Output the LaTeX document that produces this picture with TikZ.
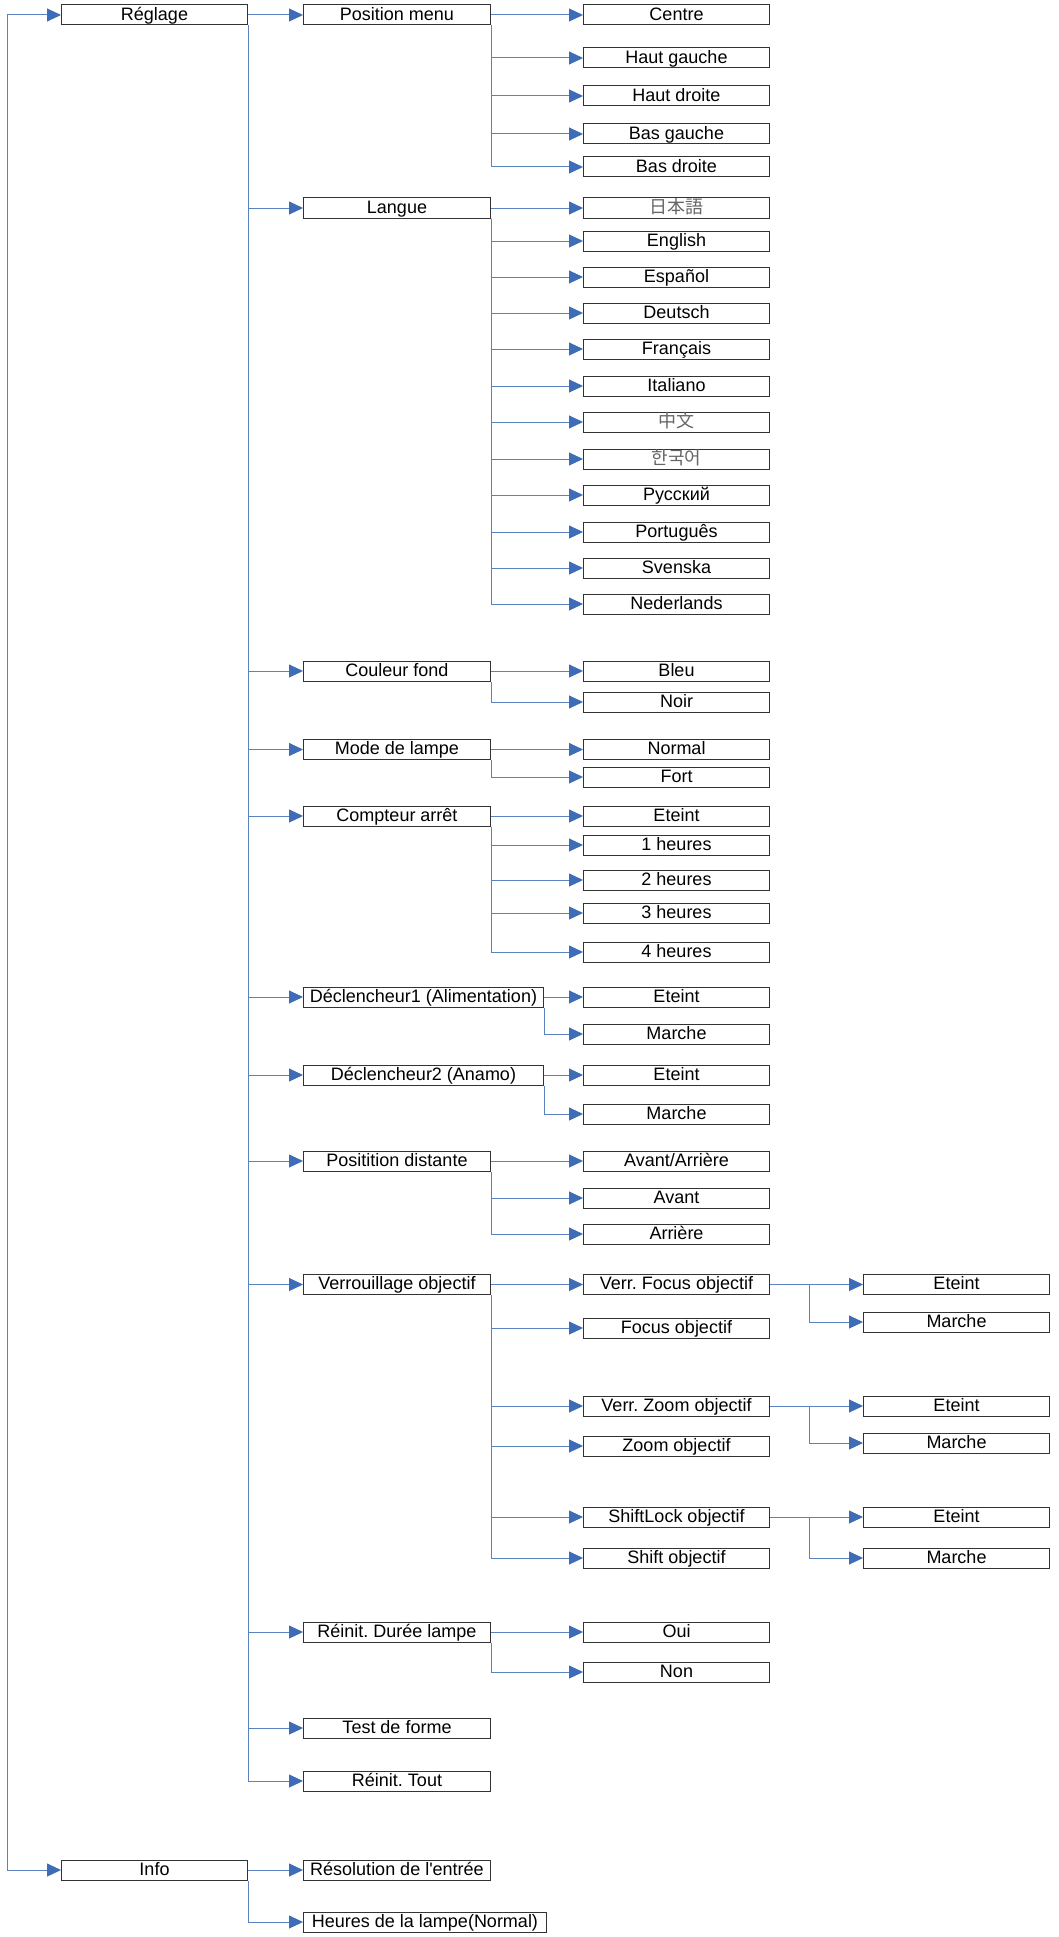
\documentclass[tikz,border=0pt]{standalone}
\usepackage{fontspec}
\newfontfamily\plainfont{Liberation Sans}
\newfontfamily\cjkjp{Noto Sans CJK JP}
\newfontfamily\cjksc{Noto Sans CJK SC}
\newfontfamily\cjkkr{Noto Sans CJK KR}
\usetikzlibrary{arrows.meta}
\definecolor{lc}{RGB}{90,130,192}
\definecolor{ac}{RGB}{62,108,182}
\frenchspacing
\begin{document}
\begin{tikzpicture}[x=1pt,y=-1pt,
  box/.style={draw=black!80, line width=1pt, fill=white, rectangle, anchor=west,
    minimum height=20pt, inner sep=0pt, font=\plainfont\fontsize{18}{20}\selectfont\frenchspacing,
    text height=12.8pt, text depth=2.4pt},
  wa/.style={box, minimum width=186pt},
  wb/.style={box, minimum width=187pt},
  wd/.style={box, minimum width=240pt},
  cjk/.style={text=black!60},
  arr/.style={draw=lc, line width=1pt, -{Triangle[length=14pt,width=13pt,fill=ac,color=ac]}}
]
\useasboundingbox (0,0) rectangle (1059,1937);

% column 1
\node[wa] (reg) at (61,15) {Réglage};
\node[wa] (info) at (61,1870) {Info};

% column 2
\node[wb] (pm) at (303,15) {Position menu};
\node[wb] (lang) at (303,208) {Langue};
\node[wb] (cf) at (303,671) {Couleur fond};
\node[wb] (ml) at (303,749.5) {Mode de lampe};
\node[wb] (ca) at (303,816) {Compteur arrêt};
\node[wd] (d1) at (303,997) {Déclencheur1 (Alimentation)};
\node[wd] (d2) at (303,1075) {Déclencheur2 (Anamo)};
\node[wb] (pd) at (303,1161) {Positition distante};
\node[wb] (vo) at (303,1284.5) {Verrouillage objectif};
\node[wb] (rd) at (303,1632) {Réinit. Durée lampe};
\node[wb] (tf) at (303,1728) {Test de forme};
\node[wb] (rt) at (303,1781) {Réinit. Tout};
\node[wb] (res) at (303,1870) {Résolution de l'entrée};
\node[box, minimum width=243pt] (hl) at (303,1922) {Heures de la lampe(Normal)};

% column 3
\node[wa] (centre) at (583,15) {Centre};
\node[wa] (hg) at (583,58) {Haut gauche};
\node[wa] (hd) at (583,96) {Haut droite};
\node[wa] (bg) at (583,134) {Bas gauche};
\node[wa] (bd) at (583,167) {Bas droite};

\node[wa, cjk] (l1) at (583,208) {\cjkjp 日本語};
\node[wa] (l2) at (583,241) {English};
\node[wa] (l3) at (583,277) {Español};
\node[wa] (l4) at (583,313) {Deutsch};
\node[wa] (l5) at (583,349) {Français};
\node[wa] (l6) at (583,386) {Italiano};
\node[wa, cjk] (l7) at (583,422) {\cjksc 中文};
\node[wa, cjk] (l8) at (583,459) {\cjkkr 한국어};
\node[wa] (l9) at (583,495) {Русский};
\node[wa] (l10) at (583,532) {Português};
\node[wa] (l11) at (583,568) {Svenska};
\node[wa] (l12) at (583,604) {Nederlands};

\node[wa] (bleu) at (583,671) {Bleu};
\node[wa] (noir) at (583,702) {Noir};
\node[wa] (normal) at (583,749.5) {Normal};
\node[wa] (fort) at (583,777) {Fort};
\node[wa] (cae) at (583,816) {Eteint};
\node[wa] (h1) at (583,845) {1 heures};
\node[wa] (h2) at (583,880) {2 heures};
\node[wa] (h3) at (583,913) {3 heures};
\node[wa] (h4) at (583,952) {4 heures};
\node[wa] (d1e) at (583,997) {Eteint};
\node[wa] (d1m) at (583,1034) {Marche};
\node[wa] (d2e) at (583,1075) {Eteint};
\node[wa] (d2m) at (583,1114) {Marche};
\node[wa] (pda) at (583,1161) {Avant/Arrière};
\node[wa] (pdb) at (583,1198) {Avant};
\node[wa] (pdc) at (583,1234) {Arrière};
\node[wa] (vf) at (583,1284.5) {Verr. Focus objectif};
\node[wa] (fo) at (583,1328) {Focus objectif};
\node[wa] (vz) at (583,1406) {Verr. Zoom objectif};
\node[wa] (zo) at (583,1446) {Zoom objectif};
\node[wa] (sl) at (583,1517) {ShiftLock objectif};
\node[wa] (so) at (583,1558) {Shift objectif};
\node[wa] (oui) at (583,1632) {Oui};
\node[wa] (non) at (583,1672) {Non};

% column 4
\node[wa] (vfe) at (863,1284.5) {Eteint};
\node[wa] (vfm) at (863,1322) {Marche};
\node[wa] (vze) at (863,1406) {Eteint};
\node[wa] (vzm) at (863,1443) {Marche};
\node[wa] (sle) at (863,1517) {Eteint};
\node[wa] (slm) at (863,1558) {Marche};

% connectors
\coordinate (lv) at (7,15);
\draw[arr] (lv) -- (reg.west);
\draw[arr] (lv) |- (info.west);

\draw[arr] (reg.east) -- (pm.west);
\foreach \c in {lang,cf,ml,ca,d1,d2,pd,vo,rd,tf,rt}
  \draw[arr] (reg.south east) |- (\c.west);

\draw[arr] (pm.east) -- (centre.west);
\foreach \c in {hg,hd,bg,bd}
  \draw[arr] (pm.south east) |- (\c.west);

\draw[arr] (lang.east) -- (l1.west);
\foreach \c in {l2,l3,l4,l5,l6,l7,l8,l9,l10,l11,l12}
  \draw[arr] (lang.south east) |- (\c.west);

\draw[arr] (cf.east) -- (bleu.west);
\draw[arr] (cf.south east) |- (noir.west);
\draw[arr] (ml.east) -- (normal.west);
\draw[arr] (ml.south east) |- (fort.west);

\draw[arr] (ca.east) -- (cae.west);
\foreach \c in {h1,h2,h3,h4}
  \draw[arr] (ca.south east) |- (\c.west);

\draw[arr] (d1.east) -- (d1e.west);
\draw[arr] (d1.south east) |- (d1m.west);
\draw[arr] (d2.east) -- (d2e.west);
\draw[arr] (d2.south east) |- (d2m.west);

\draw[arr] (pd.east) -- (pda.west);
\foreach \c in {pdb,pdc}
  \draw[arr] (pd.south east) |- (\c.west);

\draw[arr] (vo.east) -- (vf.west);
\foreach \c in {fo,vz,zo,sl,so}
  \draw[arr] (vo.south east) |- (\c.west);

\draw[arr] (vf.east) -- (vfe.west);
\draw[arr] (vf.east) -- ++(39,0) |- (vfm.west);
\draw[arr] (vz.east) -- (vze.west);
\draw[arr] (vz.east) -- ++(39,0) |- (vzm.west);
\draw[arr] (sl.east) -- (sle.west);
\draw[arr] (sl.east) -- ++(39,0) |- (slm.west);

\draw[arr] (rd.east) -- (oui.west);
\draw[arr] (rd.south east) |- (non.west);

\draw[arr] (info.east) -- (res.west);
\draw[arr] (info.south east) |- (hl.west);
\end{tikzpicture}
\end{document}
